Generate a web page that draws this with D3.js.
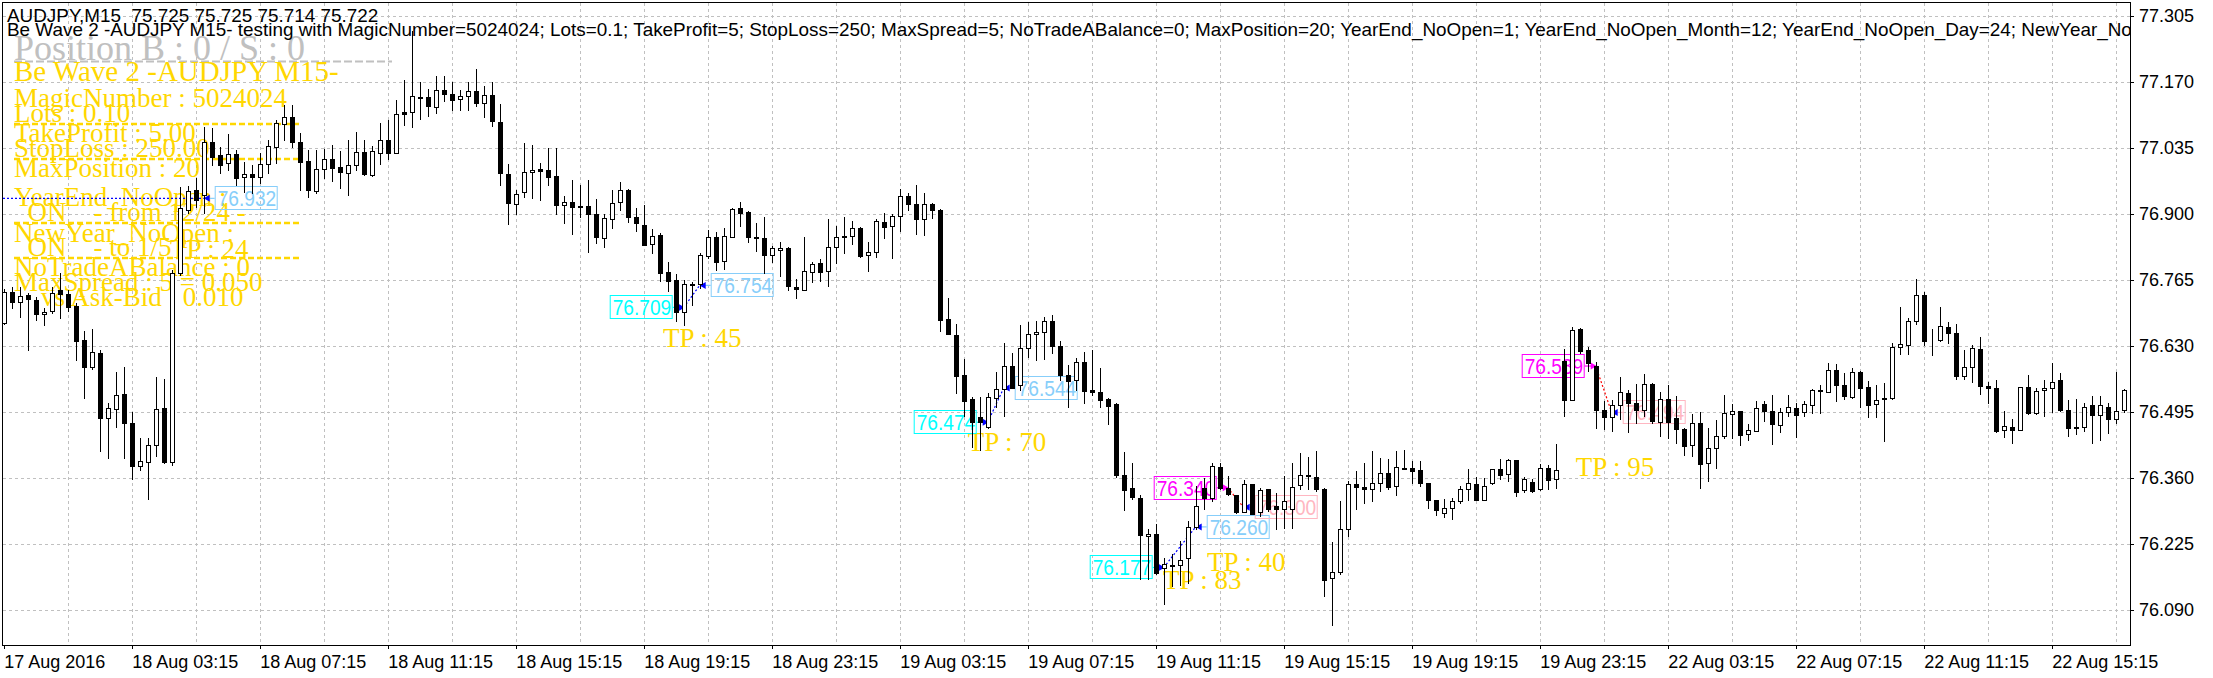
<!DOCTYPE html>
<html><head><meta charset="utf-8">
<script src="https://cdn.jsdelivr.net/npm/d3@7"></script>
<style>
html,body{margin:0;padding:0;background:#fff;overflow:hidden;}
svg{display:block;}
text{white-space:pre;}
</style></head><body>
<svg id="chart" width="2213" height="678"></svg>
<script>
// ---------------- DATA ----------------
const openP = [
76.678,76.741,76.721,76.734,76.725,76.695,76.702,76.745,76.736,76.712,
76.642,76.588,76.616,76.483,76.502,76.532,76.472,76.385,76.393,76.427,
76.504,76.393,76.779,76.908,76.949,76.939,77.047,77.021,77.004,77.023,
76.976,76.982,76.976,77.002,77.037,77.084,77.098,77.047,77.008,76.947,
76.992,77.012,76.996,76.984,77.000,77.027,76.980,77.025,77.052,77.025,
77.108,77.109,77.139,77.139,77.119,77.154,77.145,77.135,77.141,77.151,
77.127,77.143,77.088,76.982,76.920,76.945,76.986,76.993,76.991,76.978,
76.918,76.924,76.917,76.917,76.901,76.851,76.890,76.924,76.950,76.894,
76.878,76.839,76.858,76.781,76.766,76.699,76.757,76.757,76.815,76.852,
76.804,76.852,76.912,76.905,76.852,76.850,76.817,76.826,76.830,76.751,
76.745,76.782,76.799,76.784,76.832,76.852,76.856,76.871,76.817,76.822,
76.883,76.875,76.896,76.937,76.920,76.889,76.920,76.908,76.685,76.652,
76.571,76.521,76.484,76.464,76.523,76.543,76.590,76.550,76.625,76.654,
76.659,76.681,76.631,76.571,76.560,76.598,76.541,76.535,76.521,76.511,
76.367,76.339,76.320,76.241,76.246,76.176,76.181,76.182,76.197,76.260,
76.340,76.320,76.382,76.339,76.325,76.290,76.347,76.290,76.337,76.303,
76.296,76.296,76.345,76.367,76.363,76.338,76.156,76.168,76.255,76.347,
76.342,76.338,76.350,76.371,76.343,76.381,76.380,76.376,76.350,76.315,
76.288,76.299,76.313,76.337,76.348,76.316,76.349,76.379,76.369,76.396,
76.335,76.352,76.337,76.381,76.357,76.599,76.520,76.664,76.621,76.589,
76.500,76.485,76.509,76.533,76.513,76.500,76.553,76.475,76.522,76.483,
76.461,76.427,76.473,76.391,76.422,76.445,76.490,76.498,76.449,76.456,
76.511,76.498,76.468,76.494,76.504,76.494,76.509,76.541,76.536,76.580,
76.550,76.526,76.577,76.547,76.512,76.521,76.524,76.627,76.632,76.682,
76.734,76.641,76.642,76.668,76.656,76.569,76.587,76.623,76.549,76.545,
76.458,76.465,76.459,76.547,76.492,76.539,76.545,76.560,76.499,76.465,
76.465,76.509,76.488,76.506,76.481,76.500];
const highP = [
76.746,76.751,76.751,76.738,76.731,76.707,76.751,76.779,76.745,76.717,
76.661,76.665,76.622,76.514,76.577,76.588,76.494,76.442,76.441,76.566,
76.562,76.785,76.955,76.957,76.974,77.078,77.076,77.037,77.064,77.031,
77.006,77.000,77.025,77.051,77.092,77.123,77.123,77.066,77.031,77.031,
77.033,77.041,77.029,77.051,77.068,77.052,77.040,77.086,77.093,77.134,
77.175,77.275,77.171,77.156,77.183,77.183,77.169,77.154,77.169,77.197,
77.161,77.169,77.124,77.003,76.950,77.045,77.042,77.004,77.034,77.034,
76.936,76.970,76.960,76.970,76.931,76.899,76.950,76.965,76.951,76.912,
76.919,76.870,76.862,76.802,76.777,76.766,76.760,76.820,76.867,76.864,
76.871,76.912,76.924,76.906,76.881,76.893,76.835,76.842,76.832,76.768,
76.852,76.802,76.808,76.889,76.875,76.893,76.886,76.874,76.842,76.890,
76.903,76.900,76.951,76.942,76.959,76.942,76.923,76.910,76.729,76.675,
76.603,76.526,76.526,76.533,76.576,76.637,76.615,76.673,76.680,76.682,
76.690,76.693,76.640,76.592,76.605,76.618,76.621,76.584,76.524,76.514,
76.414,76.390,76.325,76.255,76.265,76.197,76.204,76.231,76.272,76.343,
76.361,76.391,76.391,76.364,76.326,76.356,76.347,76.340,76.338,76.330,
76.365,76.391,76.412,76.403,76.416,76.339,76.230,76.313,76.354,76.374,
76.391,76.416,76.401,76.399,76.416,76.418,76.395,76.395,76.350,76.316,
76.317,76.319,76.344,76.379,76.362,76.361,76.379,76.398,76.398,76.397,
76.363,76.357,76.388,76.386,76.429,76.623,76.668,76.666,76.627,76.598,
76.517,76.520,76.567,76.541,76.552,76.572,76.555,76.535,76.550,76.528,
76.463,76.490,76.495,76.462,76.478,76.529,76.511,76.498,76.470,76.517,
76.517,76.530,76.504,76.529,76.514,76.517,76.543,76.550,76.596,76.594,
76.575,76.586,76.579,76.558,76.550,76.555,76.637,76.710,76.687,76.768,
76.741,76.664,76.710,76.680,76.676,76.622,76.633,76.648,76.557,76.560,
76.498,76.481,76.547,76.570,76.545,76.560,76.595,76.574,76.519,76.522,
76.514,76.528,76.528,76.513,76.577,76.543];
const lowP = [
76.675,76.707,76.690,76.622,76.683,76.673,76.697,76.687,76.702,76.601,
76.523,76.582,76.416,76.400,76.464,76.400,76.357,76.376,76.318,76.404,
76.391,76.387,76.775,76.902,76.914,76.902,77.000,76.984,76.990,76.959,
76.945,76.943,76.963,76.984,77.004,77.051,77.037,76.949,76.935,76.943,
76.974,76.967,76.953,76.939,76.990,76.980,76.977,77.003,77.013,77.024,
77.083,77.077,77.095,77.100,77.107,77.132,77.113,77.112,77.113,77.120,
77.098,77.079,76.960,76.879,76.900,76.935,76.933,76.928,76.959,76.900,
76.881,76.860,76.894,76.822,76.841,76.832,76.871,76.909,76.884,76.865,
76.836,76.820,76.762,76.742,76.682,76.672,76.714,76.749,76.810,76.785,
76.787,76.852,76.876,76.842,76.825,76.779,76.802,76.773,76.745,76.729,
76.744,76.760,76.762,76.753,76.799,76.820,76.839,76.813,76.784,76.813,
76.850,76.811,76.865,76.908,76.860,76.857,76.891,76.661,76.654,76.533,
76.486,76.423,76.418,76.463,76.506,76.487,76.544,76.540,76.608,76.601,
76.603,76.616,76.560,76.506,76.541,76.514,76.529,76.506,76.471,76.362,
76.294,76.318,76.153,76.153,76.163,76.103,76.139,76.142,76.146,76.255,
76.296,76.313,76.338,76.326,76.289,76.290,76.286,76.282,76.292,76.256,
76.258,76.258,76.337,76.337,76.333,76.118,76.060,76.163,76.241,76.296,
76.309,76.313,76.333,76.338,76.326,76.378,76.349,76.344,76.299,76.284,
76.280,76.276,76.309,76.316,76.315,76.315,76.347,76.357,76.354,76.323,
76.332,76.331,76.335,76.338,76.340,76.487,76.519,76.616,76.579,76.463,
76.461,76.456,76.480,76.454,76.473,76.487,76.473,76.445,76.442,76.432,
76.408,76.405,76.340,76.354,76.381,76.442,76.441,76.427,76.437,76.456,
76.476,76.430,76.454,76.487,76.444,76.487,76.492,76.492,76.535,76.517,
76.521,76.524,76.505,76.485,76.485,76.436,76.522,76.613,76.614,76.676,
76.632,76.612,76.640,76.637,76.563,76.563,76.556,76.531,76.513,76.454,
76.444,76.432,76.458,76.490,76.490,76.487,76.495,76.497,76.446,76.451,
76.456,76.432,76.438,76.453,76.473,76.494];
const closeP = [
76.741,76.721,76.732,76.727,76.695,76.699,76.739,76.736,76.710,76.640,
76.588,76.618,76.483,76.504,76.529,76.472,76.385,76.395,76.427,76.502,
76.393,76.779,76.912,76.947,76.929,77.047,77.017,77.000,77.023,76.974,
76.982,76.976,77.002,77.039,77.086,77.098,77.047,77.006,76.949,76.992,
77.012,76.994,76.986,77.000,77.027,76.981,77.029,77.052,77.025,77.105,
77.105,77.141,77.138,77.120,77.154,77.145,77.134,77.141,77.151,77.127,
77.143,77.090,76.984,76.922,76.941,76.986,76.991,76.987,76.976,76.918,
76.924,76.914,76.914,76.900,76.852,76.892,76.922,76.950,76.893,76.881,
76.837,76.856,76.779,76.762,76.699,76.757,76.754,76.817,76.853,76.801,
76.854,76.910,76.903,76.852,76.850,76.817,76.830,76.830,76.753,76.747,
76.784,76.797,76.781,76.832,76.852,76.856,76.871,76.815,76.822,76.886,
76.873,76.896,76.937,76.920,76.889,76.920,76.908,76.683,76.654,76.569,
76.518,76.475,76.475,76.525,76.543,76.590,76.545,76.625,76.654,76.659,
76.682,76.631,76.570,76.558,76.598,76.538,76.535,76.519,76.507,76.366,
76.335,76.321,76.243,76.246,76.166,76.185,76.183,76.193,76.260,76.303,
76.320,76.384,76.340,76.328,76.290,76.347,76.286,76.335,76.296,76.296,
76.313,76.342,76.367,76.364,76.338,76.152,76.168,76.255,76.347,76.342,
76.338,76.349,76.371,76.342,76.383,76.379,76.374,76.350,76.316,76.294,
76.299,76.313,76.338,76.350,76.316,76.344,76.378,76.366,76.396,76.331,
76.357,76.333,76.381,76.356,76.376,76.520,76.662,76.620,76.596,76.500,
76.485,76.509,76.535,76.513,76.499,76.553,76.477,76.521,76.475,76.461,
76.425,76.473,76.388,76.422,76.445,76.492,76.497,76.448,76.458,76.504,
76.497,76.471,76.496,76.506,76.489,76.512,76.541,76.538,76.580,76.550,
76.528,76.577,76.545,76.509,76.520,76.524,76.627,76.635,76.682,76.734,
76.640,76.640,76.670,76.656,76.569,76.588,76.625,76.548,76.544,76.456,
76.466,76.458,76.547,76.492,76.538,76.545,76.556,76.499,76.463,76.462,
76.506,76.489,76.509,76.481,76.497,76.539];

const priceTicks = [77.305, 77.170, 77.035, 76.900, 76.765, 76.630, 76.495, 76.360, 76.225, 76.090];
const timeTickBars = [0,16,32,48,64,80,96,112,128,144,160,176,192,208,224,240,256];
const timeTickLabels = ["17 Aug 2016","18 Aug 03:15","18 Aug 07:15","18 Aug 11:15","18 Aug 15:15",
  "18 Aug 19:15","18 Aug 23:15","19 Aug 03:15","19 Aug 07:15","19 Aug 11:15","19 Aug 15:15",
  "19 Aug 19:15","19 Aug 23:15","22 Aug 03:15","22 Aug 07:15","22 Aug 11:15","22 Aug 15:15"];

// trades (bar index / price)
const tradeType = ["buy","buy","buy","buy","sell","sell"];
const tradeOpenBar = [null, 85, 123, 145, 153, 199];
const tradeOpenPrice = [null, 76.709, 76.474, 76.177, 76.340, 76.589];
const tradeCloseBar = [25, 87, 125, 149, 155, 201];
const tradeClosePrice = [76.932, 76.754, 76.544, 76.260, 76.300, 76.494];
const tpPoints = [24, 45, 70, 83, 40, 95];
const tpBar = [20.8, 82.4, 120.5, 144.9, 150.4, 196.5];
const tpPrice = [76.810, 76.628, 76.415, 76.133, 76.170, 76.364];

const headerLines = ["AUDJPY,M15  75.725 75.725 75.714 75.722",
  "Be Wave 2 -AUDJPY M15- testing with MagicNumber=5024024; Lots=0.1; TakeProfit=5; StopLoss=250; MaxSpread=5; NoTradeABalance=0; MaxPosition=20; YearEnd_NoOpen=1; YearEnd_NoOpen_Month=12; YearEnd_NoOpen_Day=24; NewYear_NoOpen=1; NewYear_NoOpen_Month=1; NewYear_NoOpen_Day=5"];
const positionText = "Position B : 0 / S : 0";
const infoLines = ["Be Wave 2 -AUDJPY M15-","MagicNumber : 5024024","Lots : 0.10","TakeProfit : 5.00",
  "StopLoss : 250.00","MaxPosition : 20","YearEnd_NoOpen :","  ON    - from 12/24 -","NewYear_NoOpen :",
  "  ON    - to 1/5","NoTradeABalance : 0","MaxSpread : 5 = 0.050","    vs Ask-Bid : 0.010"];

// ---------------- LAYOUT ----------------
const SANS = "'Liberation Sans', Arial, sans-serif";
const SERIF = "'Liberation Serif', 'Times New Roman', serif";
const GOLD = "#FFD700";
const svg = d3.select("#chart");
const R = 2130, B = 645;

const x = d3.scaleLinear().domain([0, 265]).range([3.7, 2123.7]);
const y = d3.scaleLinear().domain([76.090, 77.305]).range([610, 16]);

const defs = svg.append("defs");
defs.append("clipPath").attr("id","plotClip").append("rect").attr("x",3).attr("y",3).attr("width",R-3).attr("height",B-3);
defs.append("clipPath").attr("id","headClip").append("rect").attr("x",0).attr("y",0).attr("width",R).attr("height",60);

svg.append("rect").attr("width",2213).attr("height",678).attr("fill","#fff");

// grid
const grid = svg.append("g").attr("stroke","#c0c0c0").attr("stroke-width",1)
  .attr("stroke-dasharray","3,3").attr("shape-rendering","crispEdges");
grid.selectAll("line.h").data(priceTicks).join("line").attr("class","h")
  .attr("x1",3).attr("x2",R).attr("y1",d=>Math.round(y(d))+0.5).attr("y2",d=>Math.round(y(d))+0.5);
grid.selectAll("line.v").data(d3.range(8,266,8)).join("line").attr("class","v")
  .attr("x1",d=>Math.round(x(d))+0.5).attr("x2",d=>Math.round(x(d))+0.5).attr("y1",3).attr("y2",B);

// info panel (objects drawn behind the price chart)
const info = svg.append("g").attr("clip-path","url(#plotClip)");
info.append("text").attr("x",14).attr("y",60).attr("font-family",SERIF).attr("font-size",36)
  .attr("fill","#C0C0C0").text(positionText);
info.append("line").attr("x1",14).attr("x2",392).attr("y1",61.5).attr("y2",61.5)
  .attr("stroke","#C0C0C0").attr("stroke-width",2).attr("stroke-dasharray","8,3");
const infoBase = [81,107,122,142,157,177,206,221,242,256,276,291,306];
info.selectAll("text.info").data(infoLines).join("text").attr("class","info")
  .attr("x",14).attr("y",(d,i)=>infoBase[i]).attr("font-family",SERIF)
  .attr("font-size",(d,i)=>i===0?29:27).attr("fill",GOLD).text(d=>d);
info.selectAll("line.gd").data([124,159,223,258]).join("line").attr("class","gd")
  .attr("x1",14).attr("x2",302).attr("y1",d=>d).attr("y2",d=>d)
  .attr("stroke",GOLD).attr("stroke-width",2.5).attr("stroke-dasharray","6,3");

// TP labels
info.selectAll("text.tp").data(tpPoints).join("text").attr("class","tp")
  .attr("x",(d,i)=>x(tpBar[i])).attr("y",(d,i)=>y(tpPrice[i]))
  .attr("font-family",SERIF).attr("font-size",27).attr("fill",GOLD).text(d=>"TP : "+d);

// trade objects
const tg = svg.append("g").attr("clip-path","url(#plotClip)");
const fmt = d3.format(".3f");
function box(g, bx, cy, txt, col){
  g.append("rect").attr("x",bx+0.5).attr("y",Math.round(cy-12)+0.5).attr("width",62).attr("height",23)
    .attr("fill","none").attr("stroke",col).attr("stroke-width",1);
  g.append("text").attr("transform",`translate(${bx+3},${cy+8}) scale(0.87,1)`)
    .attr("font-family",SANS).attr("font-size",22).attr("fill",col).text(txt);
}
function arrowR(g,px,py,col){ g.append("path").attr("d",`M${px},${py}L${px-6},${py-3.5}L${px-6},${py+3.5}Z`).attr("fill",col); }
function arrowL(g,px,py,col){ g.append("path").attr("d",`M${px},${py}L${px+6},${py-3.5}L${px+6},${py+3.5}Z`).attr("fill",col); }

tradeType.forEach((t,k)=>{
  const buy = t==="buy";
  const cx = x(tradeCloseBar[k]), cy = y(tradeClosePrice[k]);
  const lineCol = buy ? "#0000FF" : "#FF0000";
  if (tradeOpenBar[k] !== null){
    const ox = x(tradeOpenBar[k]), oy = y(tradeOpenPrice[k]);
    tg.append("line").attr("x1",ox).attr("y1",oy).attr("x2",cx).attr("y2",cy)
      .attr("stroke",lineCol).attr("stroke-width",1.2).attr("stroke-dasharray","2,2");
    const oc = buy ? "#00FFFF" : "#FF00FF";
    box(tg, ox-11-63, oy, fmt(tradeOpenPrice[k]), oc);
    tg.append("line").attr("x1",ox-11).attr("x2",ox-4).attr("y1",oy).attr("y2",oy).attr("stroke",oc).attr("stroke-width",1.2);
    arrowR(tg, ox+1, oy, buy ? "#0000FF" : "#FF00FF");
  } else {
    tg.append("line").attr("x1",3).attr("y1",cy).attr("x2",cx).attr("y2",cy)
      .attr("stroke",lineCol).attr("stroke-width",1.2).attr("stroke-dasharray","2,2");
  }
  const cc = buy ? "#87CEFA" : "#FFB6C1";
  tg.append("line").attr("x1",cx+5).attr("x2",cx+11).attr("y1",cy).attr("y2",cy).attr("stroke",cc).attr("stroke-width",1.2);
  arrowL(tg, cx, cy, "#0000FF");
  box(tg, cx+11, cy, fmt(tradeClosePrice[k]), cc);
});

// candles
const cg = svg.append("g").attr("clip-path","url(#plotClip)").attr("shape-rendering","crispEdges");
const idx = d3.range(openP.length);
cg.selectAll("line.wick").data(idx).join("line").attr("class","wick")
  .attr("x1",i=>Math.round(x(i))+0.5).attr("x2",i=>Math.round(x(i))+0.5)
  .attr("y1",i=>Math.round(y(highP[i]))).attr("y2",i=>Math.round(y(lowP[i]))+1)
  .attr("stroke","#000").attr("stroke-width",1);
cg.selectAll("rect.body").data(idx).join("rect").attr("class","body")
  .attr("x",i=>Math.round(x(i))-1.5)
  .attr("y",i=>Math.round(y(Math.max(openP[i],closeP[i])))+0.5)
  .attr("width",4)
  .attr("height",i=>Math.max(0, Math.round(y(Math.min(openP[i],closeP[i])))-Math.round(y(Math.max(openP[i],closeP[i])))))
  .attr("fill",i=>closeP[i]>openP[i] ? "#fff" : "#000")
  .attr("stroke","#000").attr("stroke-width",1);

// header text
svg.append("g").attr("clip-path","url(#headClip)")
  .selectAll("text").data(headerLines).join("text")
  .attr("transform",(d,i)=>`translate(7,${[22,36][i]}) scale(1.05,1)`)
  .attr("font-family",SANS).attr("font-size",18).attr("fill","#000")
  .text(d=>d);

// axes
const yAxis = d3.axisRight(y).tickValues(priceTicks).tickFormat(fmt).tickSize(4).tickPadding(5).tickSizeOuter(0);
const ya = svg.append("g").attr("transform",`translate(${R},0)`).call(yAxis)
  .attr("font-family",SANS).attr("font-size",18).attr("shape-rendering","crispEdges");
ya.select(".domain").remove();
ya.selectAll("text").attr("fill","#000");

const xAxis = d3.axisBottom(x).tickValues(timeTickBars).tickFormat((d,i)=>timeTickLabels[i]).tickSize(4).tickSizeOuter(0);
const xa = svg.append("g").attr("transform",`translate(0,${B})`).call(xAxis)
  .attr("font-family",SANS).attr("font-size",18).attr("shape-rendering","crispEdges");
xa.select(".domain").remove();
xa.selectAll("text").attr("text-anchor","start").attr("y",23).attr("dy",0).attr("x",0).attr("fill","#000");

// frame
svg.append("rect").attr("x",2.5).attr("y",2.5).attr("width",R-2).attr("height",B-2)
  .attr("fill","none").attr("stroke","#000").attr("stroke-width",1).attr("shape-rendering","crispEdges");
</script>
</body></html>
